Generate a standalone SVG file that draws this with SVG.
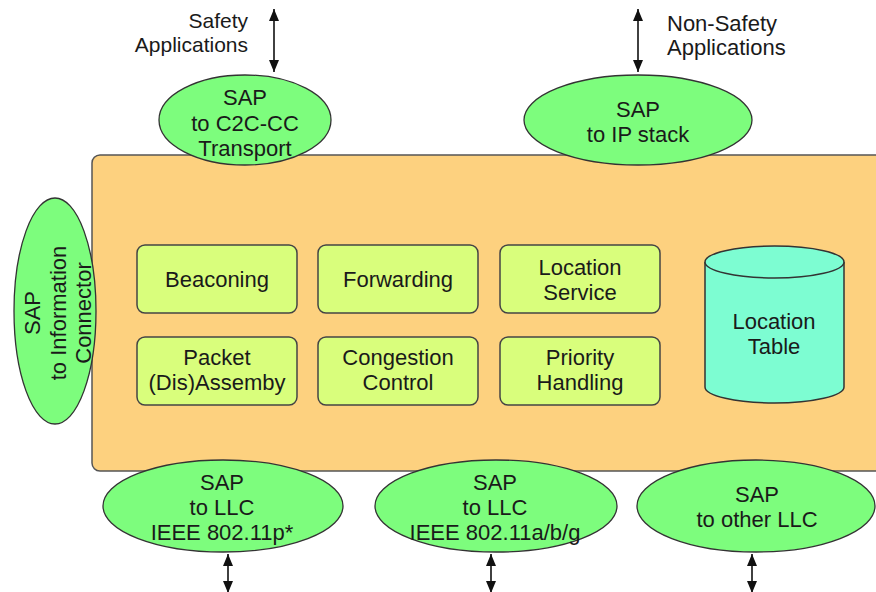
<svg xmlns="http://www.w3.org/2000/svg" width="876" height="592" viewBox="0 0 876 592">
<style>
text{font-family:"Liberation Sans",Arial,sans-serif;font-size:22px;fill:#1a1a1a;text-anchor:middle}
.lbl{text-anchor:end;font-size:21px}
.lbl2{text-anchor:start}
.sap{fill:#7dfd7d;stroke:#333;stroke-width:1.3}
.box{fill:#d9fe7c;stroke:#444;stroke-width:1.5}
.main{fill:#fdd17f;stroke:#555;stroke-width:1.5}
.cyl{fill:#7dfdd2;stroke:#333;stroke-width:1.5}
.arr{stroke:#111;stroke-width:1.6;fill:none;marker-start:url(#ah);marker-end:url(#ah)}
</style>
<defs>
<marker id="ah" viewBox="0 0 12 10" refX="12" refY="5" markerWidth="12" markerHeight="10" orient="auto-start-reverse" markerUnits="userSpaceOnUse">
<path d="M0,0 L12,5 L0,10 z" fill="#111"/>
</marker>
</defs>
<rect width="876" height="592" fill="#fff"/>
<g id="layer">
<rect class="main" x="92" y="155" width="800" height="316" rx="8"/>
</g>
<g id="connectors">
<line class="arr" x1="274" y1="9" x2="274" y2="72"/>
<line class="arr" x1="638" y1="9" x2="638" y2="72"/>
<line class="arr" x1="228" y1="554" x2="228" y2="593"/>
<line class="arr" x1="491" y1="554" x2="491" y2="593"/>
<line class="arr" x1="752" y1="554" x2="752" y2="593"/>
</g>
<g id="label-safety">
<text class="lbl" x="248" y="28">Safety</text>
<text class="lbl" x="248" y="52">Applications</text>
</g>
<g id="label-nonsafety">
<text class="lbl2" x="667" y="31">Non-Safety</text>
<text class="lbl2" x="667" y="55">Applications</text>
</g>
<g id="sap-c2c">
<ellipse class="sap" cx="245" cy="120" rx="86" ry="45"/>
<text x="245" y="105">SAP</text>
<text x="245" y="131">to C2C-CC</text>
<text x="245" y="156">Transport</text>
</g>
<g id="sap-ip">
<ellipse class="sap" cx="638" cy="120" rx="114" ry="45"/>
<text x="638" y="117">SAP</text>
<text x="638" y="142">to IP stack</text>
</g>
<g id="sap-info">
<ellipse class="sap" cx="55" cy="311" rx="41" ry="113"/>
<g transform="translate(55,313) rotate(-90)">
<text x="0" y="-15">SAP</text>
<text x="0" y="11">to Information</text>
<text x="0" y="36">Connector</text>
</g>
</g>
<g id="beaconing">
<rect class="box" x="137" y="245" width="160" height="68" rx="8"/>
<text x="217" y="287">Beaconing</text>
</g>
<g id="forwarding">
<rect class="box" x="318" y="245" width="160" height="68" rx="8"/>
<text x="398" y="287">Forwarding</text>
</g>
<g id="location-service">
<rect class="box" x="500" y="245" width="160" height="68" rx="8"/>
<text x="580" y="275">Location</text>
<text x="580" y="300">Service</text>
</g>
<g id="packet">
<rect class="box" x="137" y="337" width="160" height="68" rx="8"/>
<text x="217" y="365">Packet</text>
<text x="217" y="390">(Dis)Assemby</text>
</g>
<g id="congestion">
<rect class="box" x="318" y="337" width="160" height="68" rx="8"/>
<text x="398" y="365">Congestion</text>
<text x="398" y="390">Control</text>
</g>
<g id="priority">
<rect class="box" x="500" y="337" width="160" height="68" rx="8"/>
<text x="580" y="365">Priority</text>
<text x="580" y="390">Handling</text>
</g>
<g id="location-table">
<path class="cyl" d="M705,262 L705,387 A69.5,16 0 0 0 844,387 L844,262 A69.5,16 0 0 0 705,262 z"/>
<path class="cyl" d="M705,262 A69.5,16 0 0 0 844,262"/>
<text x="774" y="329">Location</text>
<text x="774" y="354">Table</text>
</g>
<g id="sap-llc-p">
<ellipse class="sap" cx="223" cy="506" rx="120" ry="46"/>
<text x="222" y="490">SAP</text>
<text x="222" y="515">to LLC</text>
<text x="222" y="540">IEEE 802.11p*</text>
</g>
<g id="sap-llc-abg">
<ellipse class="sap" cx="496" cy="506" rx="121" ry="46"/>
<text x="495" y="490">SAP</text>
<text x="495" y="515">to LLC</text>
<text x="495" y="540">IEEE 802.11a/b/g</text>
</g>
<g id="sap-other">
<ellipse class="sap" cx="756" cy="506" rx="119" ry="46"/>
<text x="757" y="502">SAP</text>
<text x="757" y="527">to other LLC</text>
</g>
</svg>
